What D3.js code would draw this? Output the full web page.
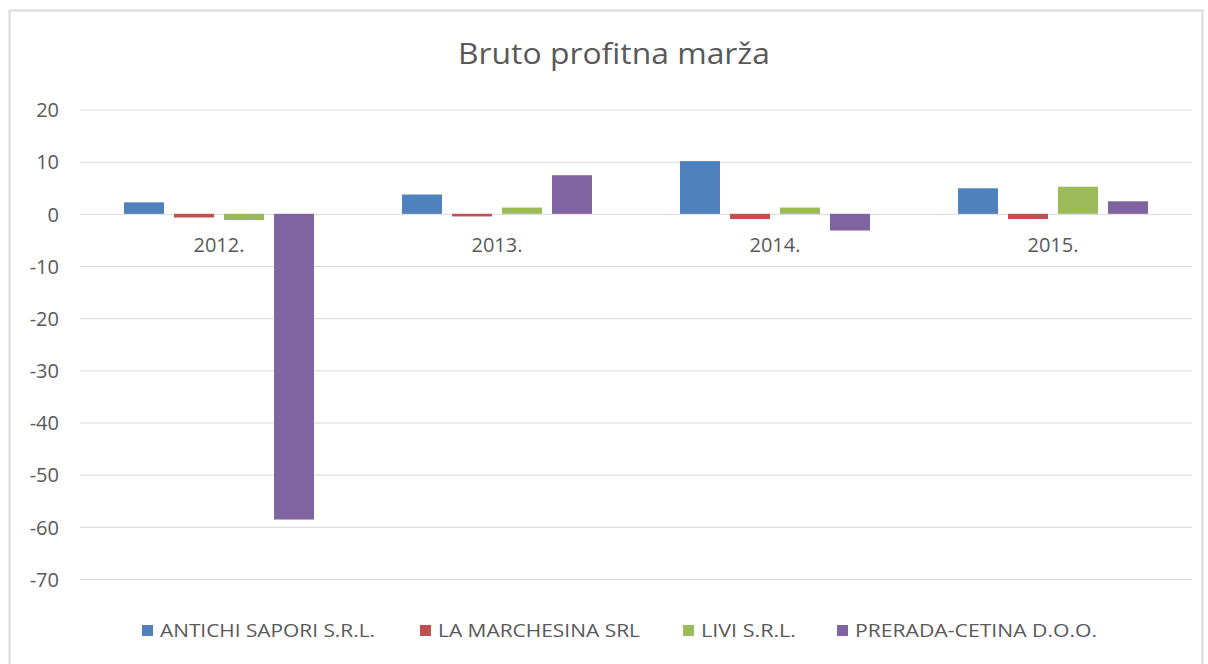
<!DOCTYPE html>
<html><head><meta charset="utf-8">
<script src="https://cdn.jsdelivr.net/npm/d3@7"></script>
<style>body{margin:0;background:#fff}svg{display:block}text{font-family:"Open Sans",Lato,sans-serif;fill:#595959}</style>
</head><body><svg id="c" width="1208" height="664"></svg>
<script>
const categories = ["2012.", "2013.", "2014.", "2015."];
const seriesNames = ["ANTICHI SAPORI S.R.L.", "LA MARCHESINA SRL", "LIVI S.R.L.", "PRERADA-CETINA D.O.O."];
const antichi = [2.2, 3.7, 10.1, 4.9];
const marchesina = [-0.7, -0.5, -1.0, -1.0];
const livi = [-1.2, 1.2, 1.2, 5.2];
const prerada = [-58.6, 7.4, -3.2, 2.4];
const yTicks = [20, 10, 0, -10, -20, -30, -40, -50, -60, -70];
const colors = ["#4f81bd", "#c0504d", "#9bbb59", "#8064a2"];
const series = [antichi, marchesina, livi, prerada];

const svg = d3.select("#c");
svg.append("rect").attr("x", 9.5).attr("y", 10.5).attr("width", 1193).attr("height", 670)
  .attr("fill", "#fff").attr("stroke", "#d9d9d9").attr("stroke-width", 2);

const x0 = d3.scaleBand().domain(categories).range([80, 1192]).paddingInner(0).paddingOuter(0);
const y = d3.scaleLinear().domain([-70, 20]).range([579, 109.5]);
const x1 = d3.scaleBand().domain(d3.range(4)).range([0, 190]).paddingInner(0.2).paddingOuter(0);
const groupOffset = (x0.bandwidth() - 190) / 2;

// grid
const yAxis = d3.axisLeft(y).tickValues(yTicks).tickSize(-1112).tickPadding(21).tickFormat(d => String(d));
const ga = svg.append("g").attr("transform", "translate(80,0)").call(yAxis);
ga.select(".domain").remove();
ga.selectAll("line").attr("stroke", "#d9d9d9").attr("stroke-width", 1);
ga.selectAll("text").style("font-size", "20px").attr("fill", "#595959").attr("dy", "0.36em");

// bars
const groups = svg.append("g").selectAll("g").data(categories).join("g")
  .attr("transform", d => `translate(${x0(d) + groupOffset},0)`);
groups.selectAll("rect").data((c, ci) => series.map((s, si) => ({si, v: s[ci]}))).join("rect")
  .attr("x", d => x1(d.si))
  .attr("width", x1.bandwidth())
  .attr("y", d => y(Math.max(0, d.v)))
  .attr("height", d => Math.abs(y(d.v) - y(0)))
  .attr("fill", d => colors[d.si]);

// category labels
svg.append("g").selectAll("text").data(categories).join("text")
  .attr("x", d => x0(d) + x0.bandwidth() / 2).attr("y", 252)
  .attr("text-anchor", "middle").style("font-size", "20px").text(d => d);

// title
svg.append("text").attr("x", 614).attr("y", 64).attr("text-anchor", "middle")
  .style("font-size", "29px").attr("textLength", 312).attr("lengthAdjust", "spacingAndGlyphs")
  .text("Bruto profitna marža");

// legend
const legendX = [142, 420, 683, 837];
const legendW = [215, 202, 95, 242];
const lg = svg.append("g").selectAll("g").data(seriesNames).join("g")
  .attr("transform", (d, i) => `translate(${legendX[i]},625)`);
lg.append("rect").attr("width", 11).attr("height", 11).attr("fill", (d, i) => colors[i]);
lg.append("text").attr("x", 18).attr("y", 12).style("font-size", "18px")
  .attr("textLength", (d, i) => legendW[i]).attr("lengthAdjust", "spacingAndGlyphs").text(d => d);
</script></body></html>
